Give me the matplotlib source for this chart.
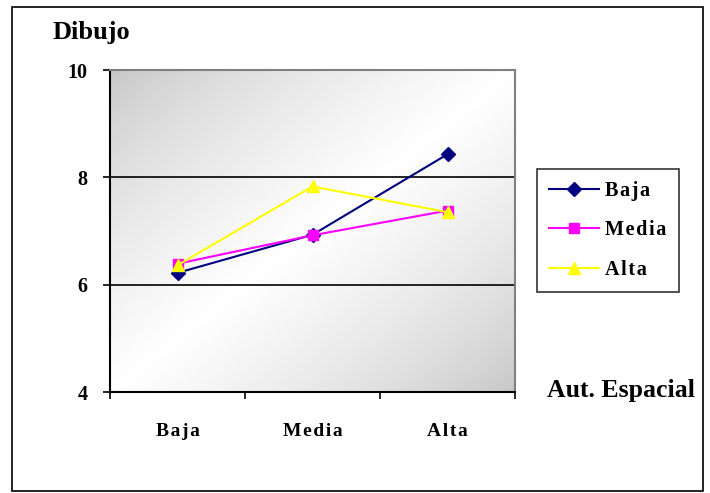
import numpy as np
import matplotlib
matplotlib.use("Agg")
import matplotlib.pyplot as plt
from matplotlib.patches import Rectangle

categories = ["Baja", "Media", "Alta"]
serie_baja = [6.22, 6.93, 8.43]
serie_media = [6.39, 6.92, 7.38]
serie_alta = [6.36, 7.83, 7.35]
series_names = ["Baja", "Media", "Alta"]
y_ticks = [4, 6, 8, 10]

plt.rcParams["font.family"] = ["Liberation Serif", "DejaVu Serif"]
plt.rcParams["font.weight"] = "bold"


def spaced(word):
    # slight letter spacing, as in the chart's category labels
    return "\u200a".join(word)


W, H = 710, 493
fig = plt.figure(figsize=(W / 100, H / 100), dpi=100)

# outer chart frame
fig.patches.append(Rectangle((12 / W, 1 - 491 / H), (703 - 12) / W, (491 - 7) / H,
                             transform=fig.transFigure, fill=False,
                             edgecolor="black", linewidth=1.2))

left, right, top, bottom = 110, 515, 70, 392
ax = fig.add_axes([left / W, 1 - bottom / H, (right - left) / W, (bottom - top) / H])

x = np.arange(len(categories))
ax.set_xlim(-0.5, len(categories) - 0.5)
ax.set_ylim(4, 10)

# diagonal gray-white-gray background
nx, ny = 300, 240
gx, gy = np.meshgrid(np.linspace(0, 1, nx), np.linspace(0, 1, ny))
s = (gx + gy) / 2.0
v = 0.77 + 0.23 * (1 - np.abs(2 * s - 1)) ** 0.7
img = np.dstack([v, v, v])
ax.imshow(img, extent=[-0.5, len(categories) - 0.5, 4, 10], origin="upper",
          aspect="auto", zorder=0, interpolation="bilinear")

for yv in [6, 8]:
    ax.axhline(yv, color="black", linewidth=1.2, zorder=1)

ax.plot(x, serie_baja, color="#000080", marker="D", markersize=7, linewidth=1.5,
        label=spaced(series_names[0]), zorder=3)
ax.plot(x, serie_media, color="#FF00FF", marker="s", markersize=7.5, linewidth=1.5,
        label=spaced(series_names[1]), zorder=3)
ax.plot(x, serie_alta, color="#FFFF00", marker="^", markersize=9, linewidth=1.5,
        label=spaced(series_names[2]), zorder=4)

ax.set_yticks(y_ticks)
ax.set_yticklabels([str(t) for t in y_ticks], fontsize=14.5, fontweight="bold")
ax.set_xticks(x)
ax.set_xticklabels([spaced(c) for c in categories], fontsize=14, fontweight="bold")
ax.set_xticks(np.arange(-0.5, len(categories)), minor=True)
ax.tick_params(axis="x", which="major", length=0, pad=22)
ax.tick_params(axis="x", which="minor", length=5, width=1.2, direction="out")
ax.tick_params(axis="y", length=5, width=1.2, direction="out", pad=11)

for side in ["left", "bottom"]:
    ax.spines[side].set_color("black")
    ax.spines[side].set_linewidth(1.5)
for side in ["top", "right"]:
    ax.spines[side].set_color("#808080")
    ax.spines[side].set_linewidth(1.5)

fig.text(91 / W, 1 - 33 / H, "Dibujo", fontsize=19, fontweight="bold",
         ha="center", va="center")
fig.text(621 / W, 1 - 391 / H, "Aut. Espacial", fontsize=18.5, fontweight="bold",
         ha="center", va="center")

leg = ax.legend(loc="upper left",
                bbox_to_anchor=((537 - left) / (right - left), (bottom - 169) / (bottom - top)),
                frameon=True, fancybox=False, edgecolor="black",
                borderaxespad=0, handlelength=2.5, handletextpad=0.3,
                labelspacing=0.96, borderpad=0.6,
                prop={"weight": "bold", "size": 14.5})
leg.get_frame().set_linewidth(1.2)

fig.savefig("out.png", dpi=100)
